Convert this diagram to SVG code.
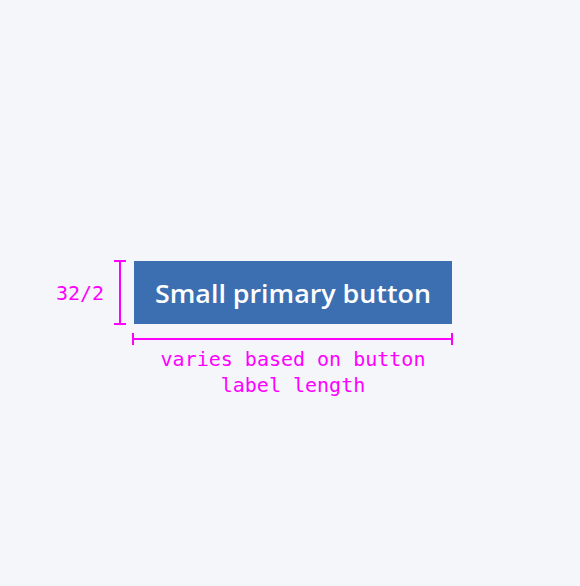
<svg xmlns="http://www.w3.org/2000/svg" width="580" height="586" viewBox="0 0 580 586">
<style>
.dim{stroke:#ff00ff;stroke-width:2;fill:none}
.mono{font-family:"DejaVu Sans Mono","Liberation Mono",monospace;fill:#ff00ff;font-size:20px}
</style>
<rect width="580" height="586" fill="#f5f6fa"/>
<g id="button">
<rect x="134" y="261" width="318" height="63" fill="#3c6fb1"/>
<text x="293" y="303" text-anchor="middle" font-family="'Open Sans','Liberation Sans',sans-serif" font-weight="600" font-size="25" fill="#ffffff" textLength="276" lengthAdjust="spacingAndGlyphs">Small primary button</text>
</g>
<g id="height-dim">
<path class="dim" d="M114 261H126M120 261V324M114 324H126"/>
<text class="mono" x="80" y="300" text-anchor="middle">32/2</text>
</g>
<g id="width-dim">
<path class="dim" d="M133 333V345M133 339H452M452 333V345"/>
<text class="mono" x="293" y="366" text-anchor="middle">varies based on button</text>
<text class="mono" x="293" y="392" text-anchor="middle">label length</text>
</g>
</svg>
